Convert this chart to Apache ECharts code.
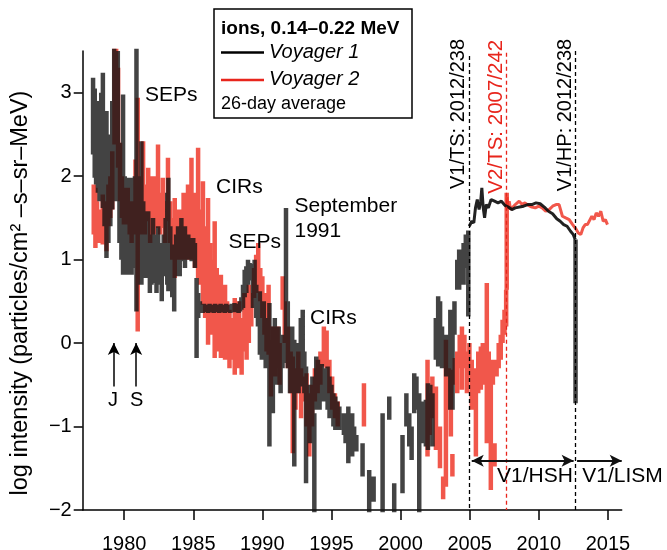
<!DOCTYPE html>
<html>
<head>
<meta charset="utf-8">
<script src="https://cdn.jsdelivr.net/npm/echarts@6/dist/echarts.min.js"></script>
<style>
  html, body { margin: 0; padding: 0; background: #fff; }
  #chart { width: 667px; height: 550px; }
</style>
</head>
<body>
<div id="chart"></div>
<script>
// tick labels
var xTicks = [1980, 1985, 1990, 1995, 2000, 2005, 2010, 2015];
var yTicks = [-2, -1, 0, 1, 2, 3];

// Voyager 1, 26-day averages drawn as ranges [year, low, high] (log intensity)
var v1Bars = [
  [1977.75, 2.26, 3.18], [1977.87, 1.98, 3.05], [1977.97, 1.9, 2.6], [1978.10, 1.8, 2.9],
  [1978.22, 1.7, 2.5], [1978.34, 2.0, 3.0], [1978.46, 1.62, 3.24], [1978.58, 1.4, 2.4],
  [1978.72, 1.02, 2.78], [1978.86, 1.2, 2.2], [1979.00, 1.4, 2.5], [1979.14, 1.6, 2.9],
  [1979.28, 1.74, 3.55], [1979.40, 1.7, 2.6], [1979.54, 1.98, 3.5], [1979.66, 1.2, 2.3],
  [1979.80, 1.0, 2.4], [1979.92, 0.82, 2.98], [1980.04, 0.82, 2.0], [1980.16, 0.9, 1.7],
  [1980.28, 0.82, 1.98], [1980.40, 0.95, 1.6], [1980.54, 0.82, 1.98], [1980.66, 0.9, 1.5],
  [1980.78, 1.2, 2.0], [1980.89, 0.38, 3.55], [1981.00, 0.7, 1.5], [1981.12, 1.0, 2.0],
  [1981.25, 0.7, 2.42], [1981.38, 0.9, 1.7], [1981.50, 0.78, 1.58], [1981.62, 0.9, 1.4],
  [1981.74, 0.78, 1.58], [1981.86, 0.6, 1.2], [1981.98, 0.7, 1.3], [1982.09, 0.72, 1.5],
  [1982.22, 0.8, 1.3], [1982.34, 0.6, 1.2], [1982.46, 0.8, 1.4], [1982.58, 0.7, 1.2],
  [1982.72, 0.5, 1.1], [1982.86, 0.8, 1.3], [1983.00, 0.9, 1.5], [1983.12, 0.7, 1.8],
  [1983.20, 0.62, 1.98], [1983.34, 0.9, 1.4], [1983.48, 0.55, 1.1], [1983.62, 0.38, 1.18],
  [1983.76, 0.8, 1.3], [1983.90, 0.9, 1.4], [1984.02, 0.8, 1.2], [1984.14, 0.98, 1.5],
  [1984.26, 1.0, 1.3], [1984.40, 0.9, 1.4], [1984.52, 1.02, 1.26], [1984.64, 1.0, 1.3],
  [1984.76, 1.02, 1.26], [1984.88, 0.98, 1.24], [1985.00, 1.02, 1.26], [1985.12, 0.9, 1.2],
  [1985.24, -0.18, 0.78], [1985.36, 0.3, 0.6], [1985.48, 0.36, 0.5], [1985.58, 0.38, 0.46],
  [1985.68, 0.36, 0.44], [1985.78, 0.38, 0.47], [1985.88, 0.37, 0.44], [1985.98, 0.38, 0.46],
  [1986.08, 0.36, 0.45], [1986.18, 0.39, 0.47], [1986.28, 0.37, 0.44], [1986.38, 0.38, 0.46],
  [1986.48, 0.36, 0.43], [1986.58, 0.38, 0.47], [1986.68, 0.37, 0.45], [1986.78, 0.39, 0.46],
  [1986.88, 0.36, 0.44], [1986.98, 0.38, 0.47], [1987.08, 0.37, 0.45], [1987.18, 0.38, 0.46],
  [1987.28, 0.36, 0.44], [1987.38, 0.39, 0.47], [1987.48, 0.37, 0.45], [1987.58, 0.38, 0.46],
  [1987.68, 0.36, 0.44], [1987.78, 0.38, 0.47], [1987.88, 0.37, 0.45], [1987.98, 0.39, 0.48],
  [1988.08, 0.37, 0.45], [1988.18, 0.38, 0.47], [1988.28, 0.36, 0.46], [1988.38, 0.38, 0.5],
  [1988.48, 0.4, 0.55], [1988.60, 0.42, 0.7], [1988.72, 0.55, 0.88], [1988.84, 0.6, 0.92],
  [1988.96, 0.7, 1.0], [1989.08, 0.8, 0.96], [1989.20, 0.75, 0.95], [1989.32, 0.42, 0.78],
  [1989.44, 0.5, 1.0], [1989.56, 0.3, 0.7], [1989.68, 0.2, 0.6], [1989.82, -0.14, 0.62],
  [1989.96, -0.2, 0.4], [1990.10, 0.0, 0.5], [1990.24, -0.3, 0.3], [1990.38, -0.1, 0.3],
  [1990.51, -1.24, 0.48], [1990.64, -0.5, 0.2], [1990.76, -0.84, 0.04], [1990.90, -0.3, 0.3],
  [1991.04, -0.5, 0.1], [1991.18, -0.4, 0.2], [1991.32, -0.6, -0.1], [1991.46, -0.3, 0.1],
  [1991.71, -0.24, 1.62], [1991.84, -0.3, 0.5], [1992.00, -0.6, 0.1], [1992.16, -0.3, 0.2],
  [1992.31, -1.48, 0.04], [1992.46, -0.5, 0.0], [1992.62, -0.6, -0.1], [1992.78, -0.2, 0.3],
  [1992.92, -0.52, 0.4], [1993.04, -0.6, -0.1], [1993.16, -1.68, -0.28], [1993.30, -1.0, -0.5],
  [1993.46, -1.2, -0.6], [1993.62, -0.9, -0.4], [1993.76, -2.05, -0.84], [1993.90, -0.8, -0.16],
  [1994.02, -0.7, -0.2], [1994.14, -0.8, -0.3], [1994.30, -0.6, -0.25], [1994.44, -0.7, -0.3],
  [1994.58, -0.6, -0.3], [1994.72, -0.8, -0.28], [1994.86, -0.9, -0.4], [1995.00, -0.8, -0.5],
  [1995.14, -1.0, -0.6], [1995.28, -1.04, -0.64], [1995.42, -1.0, -0.7], [1995.57, -1.04, -0.76],
  [1995.90, -1.1, -0.84], [1996.02, -1.2, -0.9], [1996.22, -1.44, -0.76], [1996.36, -1.3, -0.9],
  [1996.50, -1.36, -0.84], [1996.64, -1.2, -1.0], [1996.80, -1.3, -1.1], [1997.25, -1.6, -1.2],
  [1997.73, -2.05, -1.52], [1998.05, -1.9, -1.6], [1998.70, -2.05, -0.84], [1999.18, -0.92, -0.64],
  [1999.54, -2.05, -1.68], [2000.14, -1.8, -1.1], [2000.42, -1.0, -0.6], [2000.63, -1.24, -0.84],
  [2000.80, -1.4, -1.0], [2000.99, -0.84, -0.36], [2001.15, -0.8, -0.4], [2001.35, -2.05, -0.6],
  [2001.55, -1.2, -0.7], [2001.83, -1.24, -0.68], [2001.98, -1.28, -0.48], [2002.15, -0.9, -0.5],
  [2002.31, -1.24, -0.6], [2002.55, -0.2, 0.3], [2002.72, -0.28, 0.56], [2002.86, 0.0, 0.5],
  [2003.00, -0.3, 0.2], [2003.30, -0.4, 0.1], [2003.60, -0.8, 0.4], [2003.76, -0.8, 0.36],
  [2003.90, 0.1, 0.5], [2004.10, 0.64, 1.0], [2004.24, 0.64, 1.12], [2004.40, 0.8, 1.1],
  [2004.56, 0.7, 1.2], [2004.72, 0.9, 1.3], [2004.90, 0.32, 1.35], [2012.66, -0.72, 1.24]
];

// Voyager 1 after the termination shock [year, log intensity]
var v1Line = [
  [2004.97, 1.40], [2005.15, 1.46], [2005.30, 1.44], [2005.42, 1.62], [2005.55, 1.72], [2005.68, 1.6],
  [2005.80, 1.7], [2005.88, 1.86], [2005.98, 1.62], [2006.08, 1.5], [2006.20, 1.66], [2006.35, 1.62],
  [2006.55, 1.72], [2006.80, 1.70], [2007.05, 1.68], [2007.30, 1.70], [2007.55, 1.65], [2007.80, 1.63],
  [2008.05, 1.60], [2008.30, 1.62], [2008.60, 1.63], [2008.90, 1.64], [2009.20, 1.66], [2009.50, 1.66],
  [2009.80, 1.68], [2010.10, 1.67], [2010.40, 1.63], [2010.70, 1.58], [2011.00, 1.55], [2011.30, 1.49],
  [2011.55, 1.46], [2011.80, 1.42], [2012.05, 1.40], [2012.30, 1.34], [2012.50, 1.30], [2012.64, 1.24]
];

// Voyager 2 ranges [year, low, high]
var v2Bars = [
  [1977.80, 1.3, 1.9], [1977.92, 1.14, 1.86], [1978.04, 1.2, 1.7], [1978.16, 1.3, 1.6],
  [1978.30, 1.2, 1.6], [1978.45, 1.18, 1.78], [1978.58, 1.3, 1.7], [1978.72, 1.1, 1.5],
  [1978.86, 1.4, 1.9], [1979.00, 1.5, 2.0], [1979.14, 1.6, 2.3], [1979.30, 2.38, 3.55],
  [1979.42, 2.4, 3.55], [1979.56, 2.1, 3.3], [1979.70, 1.7, 2.4], [1979.84, 1.5, 2.0],
  [1979.98, 1.42, 1.86], [1980.12, 1.5, 1.8], [1980.26, 1.42, 1.86], [1980.40, 1.3, 1.7],
  [1980.54, 1.2, 1.6], [1980.68, 1.3, 1.7], [1980.82, 1.5, 2.2], [1980.98, 0.14, 2.94],
  [1981.12, 1.4, 2.0], [1981.26, 1.3, 1.9], [1981.37, 1.5, 2.42], [1981.50, 1.3, 1.8],
  [1981.62, 1.5, 1.9], [1981.74, 1.46, 2.1], [1981.88, 1.2, 1.8], [1982.02, 1.46, 2.0],
  [1982.14, 1.3, 1.8], [1982.30, 1.4, 2.0], [1982.45, 1.38, 2.38], [1982.60, 1.3, 1.8],
  [1982.80, 1.38, 1.98], [1982.96, 1.2, 1.7], [1983.17, 1.46, 2.22], [1983.32, 1.2, 1.7],
  [1983.48, 1.0, 1.5], [1983.66, 0.78, 1.74], [1983.82, 1.0, 1.6], [1983.98, 1.1, 1.6],
  [1984.14, 1.0, 1.5], [1984.30, 1.2, 1.8], [1984.46, 1.0, 1.6], [1984.62, 1.1, 1.9],
  [1984.76, 1.0, 1.7], [1984.87, 1.02, 2.22], [1985.00, 1.0, 1.6], [1985.12, 0.9, 1.8],
  [1985.35, 0.78, 2.34], [1985.52, 0.7, 1.6], [1985.70, 0.46, 1.94], [1985.86, 0.3, 1.4],
  [1986.07, -0.02, 1.74], [1986.22, 0.2, 1.2], [1986.38, 0.1, 1.0], [1986.55, -0.18, 1.46],
  [1986.70, 0.1, 0.9], [1986.85, -0.1, 0.8], [1987.00, -0.18, 0.82], [1987.15, 0.0, 0.6],
  [1987.30, -0.2, 0.7], [1987.45, -0.1, 0.5], [1987.62, -0.3, 0.4], [1987.78, -0.2, 0.3],
  [1988.00, -0.38, 0.54], [1988.15, -0.2, 0.4], [1988.32, -0.3, 0.5], [1988.50, -0.38, 0.3],
  [1988.70, -0.1, 0.6], [1988.86, -0.2, 0.5], [1989.02, 0.0, 0.7], [1989.20, 0.2, 0.6],
  [1989.40, 0.54, 0.9], [1989.55, 0.6, 1.06], [1989.70, 0.6, 1.2], [1989.85, 0.5, 0.9],
  [1990.00, 0.3, 0.8], [1990.15, 0.1, 0.6], [1990.30, -0.1, 0.5], [1990.45, -0.14, 0.7],
  [1990.62, -0.64, 0.04], [1990.78, -0.3, 0.2], [1990.92, -0.4, 0.1], [1991.10, -0.3, 0.2],
  [1991.25, -0.5, 0.0], [1991.47, 0.4, 0.8], [1991.62, 0.0, 0.5], [1991.85, -0.3, 0.2],
  [1992.05, -0.6, -0.1], [1992.20, -1.32, -0.16], [1992.40, -0.8, -0.3], [1992.60, -0.6, -0.1],
  [1992.80, -0.9, -0.3], [1993.00, -0.7, -0.4], [1993.20, -1.0, -0.36], [1993.40, -1.36, -0.6],
  [1993.60, -1.0, -0.5], [1993.80, -0.7, -0.3], [1994.00, -0.6, -0.2], [1994.20, -0.5, -0.1],
  [1994.45, -0.28, 0.2], [1994.65, -0.3, 0.15], [1994.85, -0.6, -0.2], [1995.05, -0.8, -0.4],
  [1995.25, -0.9, -0.6], [1995.45, -1.0, -0.7], [1997.35, -1.0, -0.48], [2001.95, -1.36, -0.2],
  [2002.10, -1.1, -0.6], [2002.30, -0.9, -0.4], [2002.56, -1.28, -0.52], [2002.85, -1.5, -1.0],
  [2003.08, -1.87, -1.6], [2003.28, -1.72, 0.04], [2003.48, -0.8, -0.3], [2003.64, -1.12, -0.32],
  [2003.75, -1.6, -1.33], [2003.92, -0.5, -0.18], [2004.10, -0.6, -0.1], [2004.28, -0.3, 0.1],
  [2004.44, -0.56, 0.2], [2004.62, -0.3, 0.1], [2004.80, -0.6, -0.1], [2004.98, -0.4, 0.0],
  [2005.15, -0.8, -0.2], [2005.30, -0.7, -0.3], [2005.45, -1.36, -0.6], [2005.62, -0.6, -0.1],
  [2005.81, -0.56, -0.04], [2005.95, -0.5, 0.0], [2006.10, -0.4, -0.1], [2006.24, -1.2, 0.72],
  [2006.38, -0.4, -0.1], [2006.53, -1.76, -0.24], [2006.68, -0.5, -0.2], [2006.80, -1.48, -1.2],
  [2006.95, -0.4, -0.2], [2007.10, -0.3, 0.0], [2007.25, -0.2, 0.1], [2007.38, 0.0, 0.28],
  [2007.52, 0.1, 0.4], [2007.64, 0.2, 0.64], [2007.68, 0.64, 1.8]
];

// Voyager 2 after its termination shock
var v2Line = [
  [2007.70, 1.75], [2007.76, 1.62], [2007.86, 1.7], [2007.96, 1.6], [2008.10, 1.58], [2008.30, 1.66],
  [2008.58, 1.7], [2008.80, 1.66], [2009.00, 1.68], [2009.25, 1.65], [2009.50, 1.63], [2009.75, 1.62],
  [2010.00, 1.64], [2010.25, 1.62], [2010.50, 1.58], [2010.75, 1.6], [2011.00, 1.64], [2011.25, 1.66],
  [2011.47, 1.66], [2011.71, 1.52], [2011.95, 1.50], [2012.20, 1.48], [2012.45, 1.42], [2012.68, 1.37],
  [2012.86, 1.32], [2013.04, 1.30], [2013.20, 1.38], [2013.36, 1.42], [2013.52, 1.42], [2013.68, 1.47],
  [2013.84, 1.52], [2014.00, 1.48], [2014.16, 1.56], [2014.32, 1.52], [2014.49, 1.58], [2014.66, 1.46],
  [2014.82, 1.48], [2014.97, 1.42]
];

// boundary crossings: year, top of dashed line (log intensity)
var crossingYears = [2004.97, 2007.66, 2012.65];
var crossingTops = [3.44, 3.48, 3.5];
var crossingLabels = ['V1/TS: 2012/238', 'V2/TS: 2007/242', 'V1/HP: 2012/238'];

// region arrows (years) and their level
var hshSpan = [2005.15, 2012.52];
var lismSpan = [2012.77, 2016.0];
var regionLevel = -1.41;

// J / S encounter arrows
var encounterYears = [1979.25, 1980.87];
var encounterNames = ['J', 'S'];
var encounterFrom = -0.52;
var encounterTo = 0.0;

var FONT = '"Liberation Sans", Arial, Helvetica, sans-serif';
var RED = '#e8251c';

function fixMinus(v) {
  return String(v).replace('-', '\u2212');
}

// each range becomes a vertical stroke, separated by a gap
function barsToSeries(bars) {
  var out = [];
  bars.forEach(function (b) {
    out.push([b[0], b[1]], [b[0], b[2]], [b[0], '-']);
  });
  return out;
}

function text(str, x, y, size, opt) {
  opt = opt || {};
  return {
    type: 'text',
    x: x,
    y: y,
    rotation: opt.rotation || 0,
    z: 100,
    silent: true,
    style: {
      text: str,
      font: (opt.style || '') + ' ' + (opt.weight || 'normal') + ' ' + size + 'px ' + FONT,
      fill: opt.color || '#000',
      align: opt.align || 'left',
      verticalAlign: 'middle',
      textAlign: opt.align || 'left',
      textVerticalAlign: 'middle'
    }
  };
}

var markData = [];
crossingYears.forEach(function (yr, i) {
  markData.push([
    { coord: [yr, crossingTops[i]], symbol: 'none',
      lineStyle: { color: i === 1 ? RED : '#000', type: [4, 3], width: 1.3 } },
    { coord: [yr, -2], symbol: 'none' }
  ]);
});
var arrowStyle = { color: '#111', type: 'solid', width: 1.8 };
markData.push([
  { coord: [hshSpan[0], regionLevel], symbol: 'arrow', lineStyle: arrowStyle },
  { coord: [hshSpan[1], regionLevel], symbol: 'arrow' }
]);
markData.push([
  { coord: [lismSpan[0], regionLevel], symbol: 'none', lineStyle: arrowStyle },
  { coord: [lismSpan[1], regionLevel], symbol: 'arrow' }
]);
encounterYears.forEach(function (yr) {
  markData.push([
    { coord: [yr, encounterFrom], symbol: 'none', lineStyle: { color: '#000', type: 'solid', width: 1.5 } },
    { coord: [yr, encounterTo], symbol: 'arrow' }
  ]);
});

var graphics = [
  // y axis title
  text('log intensity (particles/cm\u00b2 \u2013s\u2013sr\u2013MeV)', 21, 293, 23.5, { rotation: Math.PI / 2, align: 'center' }),
  // legend box
  { type: 'rect', z: 99, silent: true, shape: { x: 214, y: 9, width: 198, height: 109 },
    style: { fill: '#fff', stroke: '#000', lineWidth: 1.5 } },
  text('ions, 0.14\u20130.22 MeV', 221, 28.5, 19, { weight: 'bold' }),
  { type: 'line', z: 100, silent: true, shape: { x1: 221, y1: 52.5, x2: 264, y2: 52.5 },
    style: { stroke: '#000', lineWidth: 2.5 } },
  text('Voyager 1', 269, 52, 20, { style: 'italic' }),
  { type: 'line', z: 100, silent: true, shape: { x1: 221, y1: 80, x2: 264, y2: 80 },
    style: { stroke: RED, lineWidth: 2.5 } },
  text('Voyager 2', 269, 79, 20, { style: 'italic' }),
  text('26-day average', 221, 104, 18),
  // annotations
  text('SEPs', 145, 95, 21),
  text('CIRs', 216, 187.5, 21),
  text('SEPs', 228.5, 242, 21),
  text('September', 294.5, 206.5, 21),
  text('1991', 294.5, 231.5, 21),
  text('CIRs', 310, 318, 21),
  text(encounterNames[0], 113, 400, 20, { align: 'center' }),
  text(encounterNames[1], 136.7, 400, 20, { align: 'center' }),
  text('V1/HSH', 535, 476.5, 21, { align: 'center' }),
  text('V1/LISM', 622.5, 476.5, 21, { align: 'center' }),
  text(crossingLabels[0], 458.3, 114, 20, { rotation: Math.PI / 2, align: 'center' }),
  text(crossingLabels[1], 496.7, 116.7, 20.5, { rotation: Math.PI / 2, align: 'center', color: RED }),
  text(crossingLabels[2], 565.8, 115, 20, { rotation: Math.PI / 2, align: 'center' })
];

var chart = echarts.init(document.getElementById('chart'), null, { renderer: 'canvas' });

var BLACK_BAR = 'rgba(20,20,20,0.8)';
var RED_BAR = 'rgba(238,45,30,0.8)';

var option = {
  animation: false,
  backgroundColor: '#fff',
  textStyle: { fontFamily: FONT },
  grid: { left: 82.7, right: 45.3, top: 51, bottom: 40, containLabel: false, outerBoundsMode: 'none' },
  xAxis: {
    type: 'value',
    min: 1977,
    max: 2016,
    axisLine: { show: true, onZero: false, lineStyle: { color: '#000', width: 1.5 } },
    axisTick: { show: true, customValues: xTicks, length: 10, lineStyle: { color: '#000', width: 1.5 } },
    axisLabel: {
      customValues: xTicks, fontSize: 20, color: '#000', margin: 24, fontFamily: FONT,
      formatter: function (v) { return String(v); }
    },
    splitLine: { show: false }
  },
  yAxis: {
    type: 'value',
    min: -2,
    max: 3.5,
    axisLine: { show: true, onZero: false, lineStyle: { color: '#000', width: 1.5 } },
    axisTick: { show: true, customValues: yTicks, length: 9, lineStyle: { color: '#000', width: 1.5 } },
    axisLabel: { customValues: yTicks, fontSize: 20, color: '#000', margin: 11, fontFamily: FONT, formatter: fixMinus },
    splitLine: { show: false }
  },
  series: [
    {
      name: 'Voyager 2',
      type: 'line',
      data: barsToSeries(v2Bars),
      showSymbol: false,
      symbol: 'none',
      silent: true,
      z: 2,
      lineStyle: { width: 4.5, color: RED_BAR, cap: 'butt' }
    },
    {
      name: 'Voyager 2 line',
      type: 'line',
      data: v2Line,
      showSymbol: false,
      symbol: 'none',
      silent: true,
      z: 2,
      lineStyle: { width: 3, color: RED_BAR }
    },
    {
      name: 'Voyager 1',
      type: 'line',
      data: barsToSeries(v1Bars),
      showSymbol: false,
      symbol: 'none',
      silent: true,
      z: 3,
      lineStyle: { width: 4.5, color: BLACK_BAR, cap: 'butt' }
    },
    {
      name: 'Voyager 1 line',
      type: 'line',
      data: v1Line,
      showSymbol: false,
      symbol: 'none',
      silent: true,
      z: 3,
      lineStyle: { width: 3, color: 'rgba(10,10,10,0.9)' },
      markLine: {
        silent: true,
        animation: false,
        symbolSize: [9, 12],
        label: { show: false },
        emphasis: { disabled: true },
        data: markData
      }
    }
  ],
  graphic: graphics
};

chart.setOption(option);
</script>
</body>
</html>
